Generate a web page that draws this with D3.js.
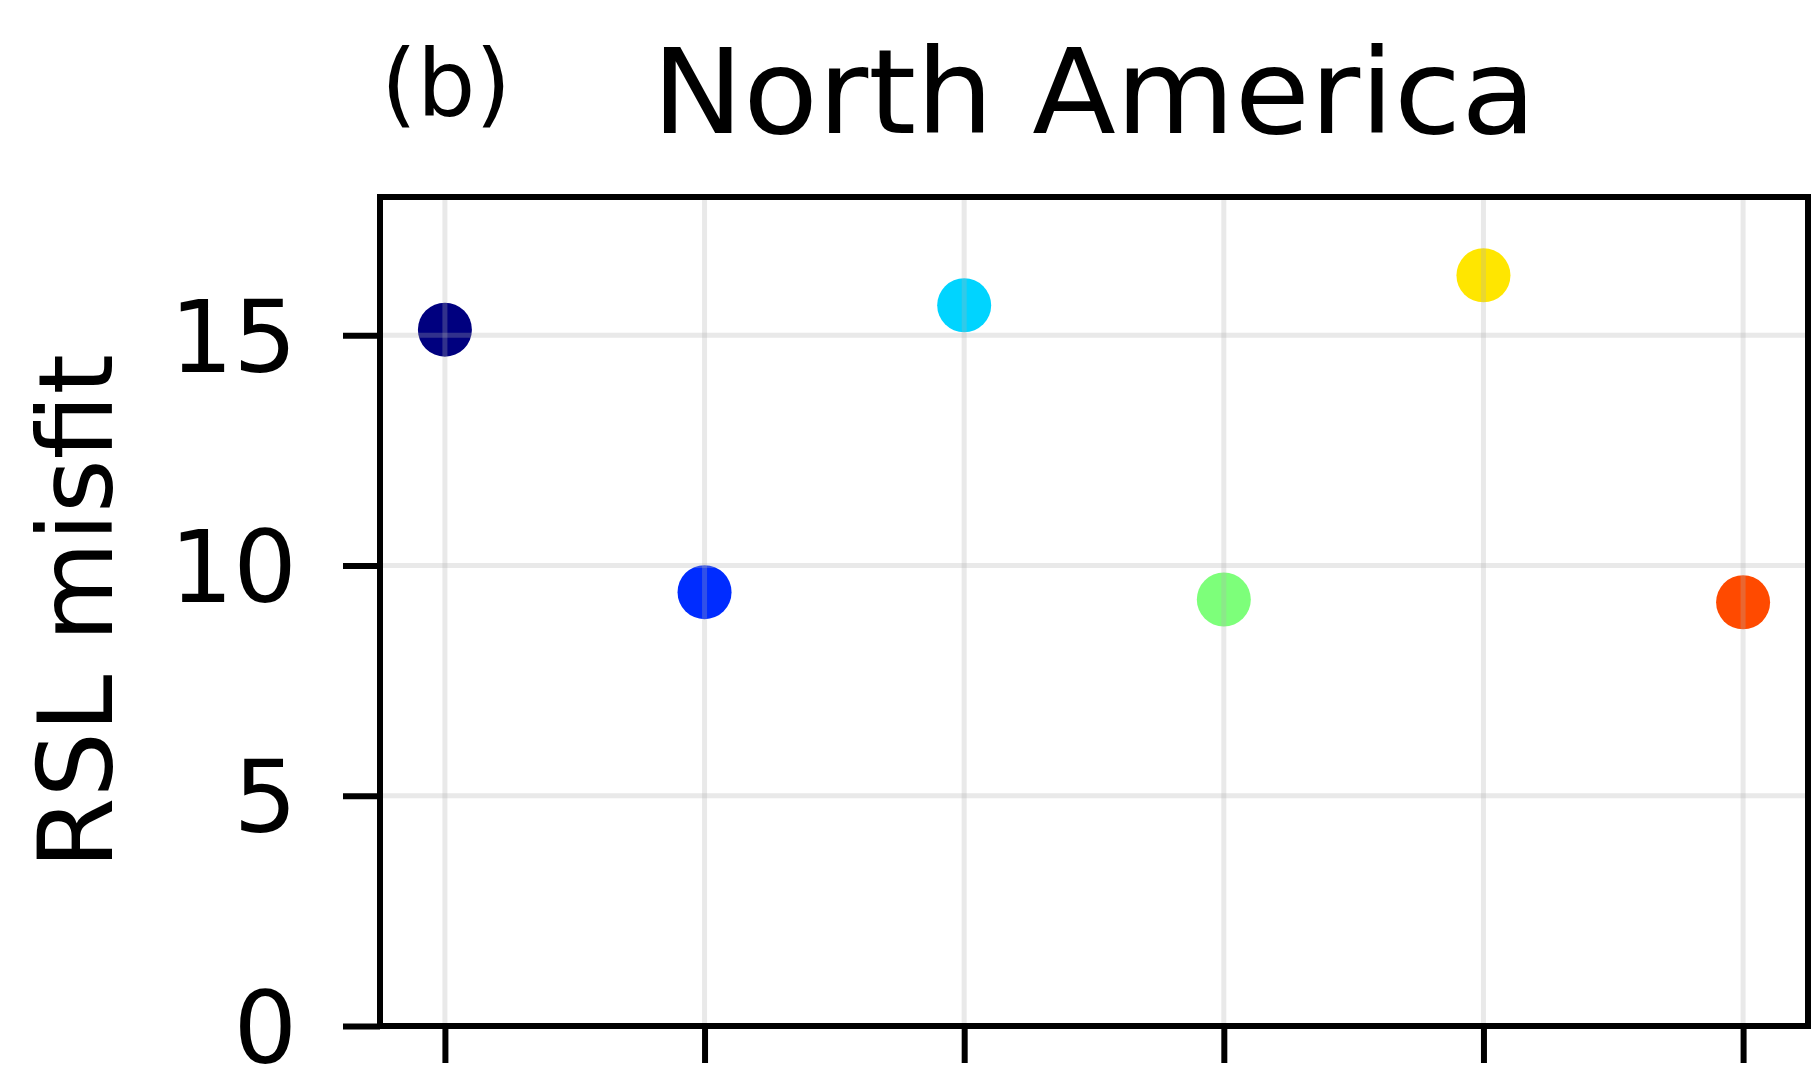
<!DOCTYPE html>
<html>
<head>
<meta charset="utf-8">
<script src="https://cdn.jsdelivr.net/npm/d3@7"></script>
<style>
  html, body { margin: 0; padding: 0; background: #ffffff; }
  svg { display: block; }
  text { font-family: "DejaVu Sans", sans-serif; fill: #000; }
</style>
</head>
<body>
<svg id="chart" width="1813" height="1078"></svg>
<script>
// Model runs (one point per run), RSL misfit for the North America region
const runIndex = [0, 1, 2, 3, 4, 5];
const misfit = [15.12, 9.42, 15.65, 9.26, 16.30, 9.20];
const runColors = ["#00007f", "#002cff", "#00d4ff", "#7dff7a", "#ffe600", "#ff4a00"];
const yTicks = [0, 5, 10, 15];

const panelLabel = "(b)";
const title = "North America";
const yLabel = "RSL misfit";

const svg = d3.select("#chart");
const plot = { left: 380, right: 1808, top: 197, bottom: 1026 };

const x = d3.scaleLinear().domain([-0.25, 5.25]).range([plot.left, plot.right]);
const y = d3.scaleLinear().domain([0, 18]).range([plot.bottom, plot.top]);

// Points
svg.append("g")
  .selectAll("circle")
  .data(runIndex)
  .join("circle")
  .attr("cx", d => x(d))
  .attr("cy", (d, i) => y(misfit[i]))
  .attr("r", 27)
  .attr("fill", (d, i) => runColors[i]);

// Semi-transparent grid drawn above the points
const grid = svg.append("g").attr("stroke", "#b0b0b0").attr("stroke-opacity", 0.28).attr("stroke-width", 5);
grid.selectAll("line.v")
  .data(runIndex)
  .join("line")
  .attr("class", "v")
  .attr("x1", d => x(d)).attr("x2", d => x(d))
  .attr("y1", plot.top).attr("y2", plot.bottom);
grid.selectAll("line.h")
  .data(yTicks.filter(t => t > 0))
  .join("line")
  .attr("class", "h")
  .attr("x1", plot.left).attr("x2", plot.right)
  .attr("y1", d => y(d)).attr("y2", d => y(d));

// Axes
const tickLen = 37;
const xAxis = d3.axisBottom(x).tickValues(runIndex).tickFormat("").tickSize(tickLen).tickSizeOuter(0);
const yAxis = d3.axisLeft(y).tickValues(yTicks).tickSize(tickLen).tickSizeOuter(0).tickPadding(46);

const gx = svg.append("g").attr("transform", `translate(0,${plot.bottom})`).call(xAxis);
const gy = svg.append("g").attr("transform", `translate(${plot.left},0)`).call(yAxis);

[gx, gy].forEach(g => {
  g.selectAll(".domain").remove();
  g.selectAll(".tick line").attr("stroke", "#000").attr("stroke-width", 6);
});
gy.selectAll(".tick text")
  .attr("font-size", 100)
  .attr("font-family", "DejaVu Sans")
  .attr("fill", "#000")
  .attr("dy", "0.36em");

// Frame
svg.append("rect")
  .attr("x", plot.left).attr("y", plot.top)
  .attr("width", plot.right - plot.left).attr("height", plot.bottom - plot.top)
  .attr("fill", "none").attr("stroke", "#000").attr("stroke-width", 6);

// Titles
svg.append("text")
  .attr("x", (plot.left + plot.right) / 2).attr("y", 133)
  .attr("text-anchor", "middle").attr("font-size", 118)
  .attr("textLength", 884).attr("lengthAdjust", "spacingAndGlyphs")
  .text(title);
svg.append("text")
  .attr("x", 381).attr("y", 116)
  .attr("font-size", 92)
  .text(panelLabel);
svg.append("text")
  .attr("transform", `translate(112,${(plot.top + plot.bottom) / 2}) rotate(-90)`)
  .attr("text-anchor", "middle").attr("font-size", 103)
  .text(yLabel);
</script>
</body>
</html>
